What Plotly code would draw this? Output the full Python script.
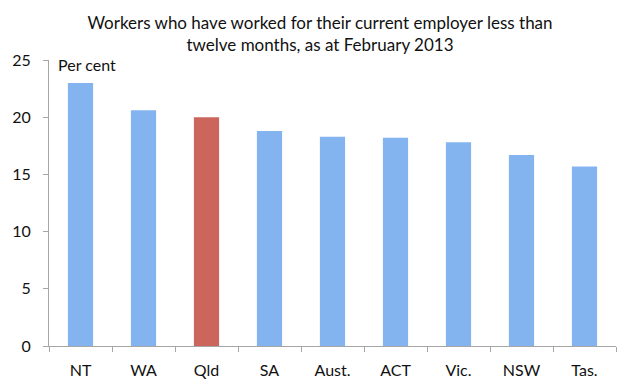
import plotly.graph_objects as go

categories = ["NT", "WA", "Qld", "SA", "Aust.", "ACT", "Vic.", "NSW", "Tas."]
values = [23.0, 20.6, 20.0, 18.8, 18.3, 18.2, 17.8, 16.7, 15.7]
highlight = "Qld"
y_ticks = [0, 5, 10, 15, 20, 25]

blue = "#84b4f0"
red = "#cc655b"
colors = [red if c == highlight else blue for c in categories]

fig = go.Figure(
    go.Bar(
        x=categories,
        y=values,
        marker=dict(color=colors, line=dict(width=0)),
        width=0.4,
    )
)

font_family = "Lato, 'Open Sans', sans-serif"

fig.update_layout(
    width=640,
    height=391,
    margin=dict(l=47, r=24, t=60, b=45),
    paper_bgcolor="white",
    plot_bgcolor="white",
    showlegend=False,
    font=dict(family=font_family, size=15, color="#111111"),
    title=dict(
        text="Workers who have worked for their current employer less than<br>twelve months, as at February 2013",
        x=0.5,
        xanchor="center",
        y=0.925,
        yanchor="top",
        font=dict(family=font_family, size=17, color="#111111"),
    ),
    xaxis=dict(
        showline=True,
        linecolor="#a6a6a6",
        linewidth=1,
        ticks="outside",
        tickson="boundaries",
        ticklen=5,
        tickcolor="#a6a6a6",
        showgrid=False,
        zeroline=False,
        tickfont=dict(size=16),
        ticklabelstandoff=10,
    ),
    yaxis=dict(
        range=[0, 25],
        tickvals=y_ticks,
        showline=True,
        linecolor="#a6a6a6",
        linewidth=1,
        ticks="outside",
        ticklen=5,
        tickcolor="#a6a6a6",
        showgrid=False,
        zeroline=False,
        tickfont=dict(size=16),
        ticklabelstandoff=9,
    ),
    annotations=[
        dict(
            text="Per cent",
            xref="paper",
            yref="paper",
            x=0.012,
            y=0.985,
            xanchor="left",
            yanchor="middle",
            showarrow=False,
            font=dict(family=font_family, size=16, color="#111111"),
        )
    ],
)

fig.write_html(
    "out.html",
    config={"displayModeBar": False},
    post_script="document.body.style.margin='0';document.body.style.padding='0';",
)
